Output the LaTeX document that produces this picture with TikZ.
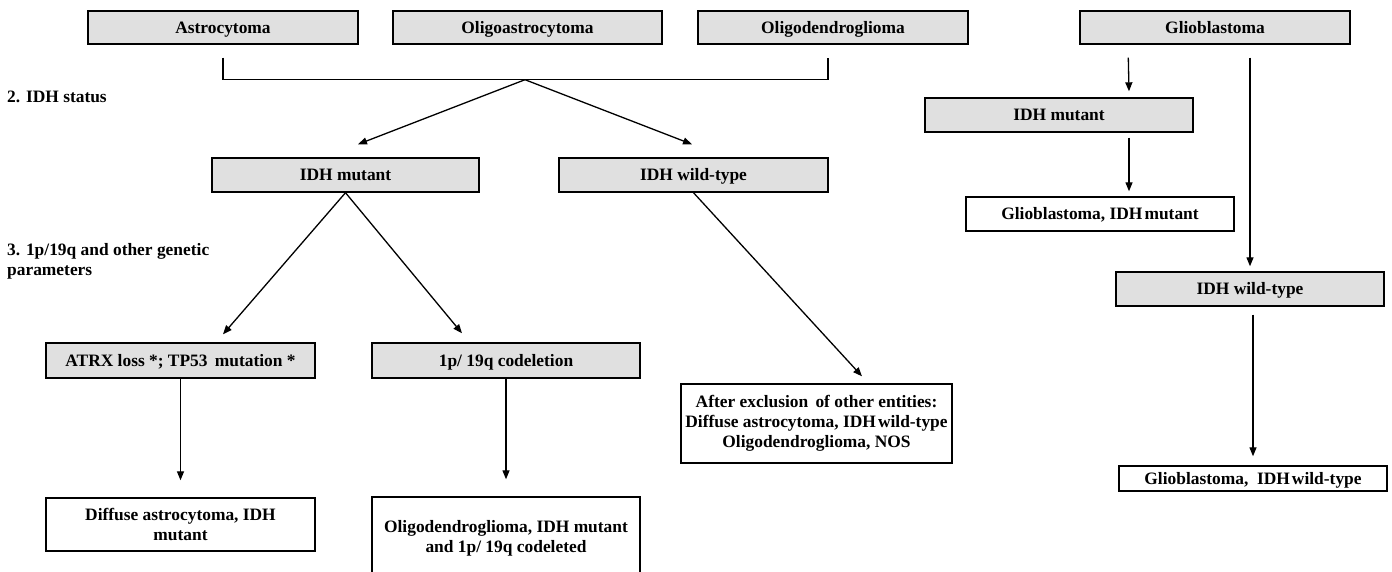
\documentclass[tikz,border=0pt]{standalone}
\usepackage{fontspec}
\setmainfont{Liberation Serif}
\usetikzlibrary{arrows.meta,calc}
\definecolor{boxgray}{RGB}{224,224,224}
\begin{document}
\begin{tikzpicture}[x=1pt,y=-1pt,
  every node/.style={font=\fontsize{17.4}{20}\selectfont\bfseries},
  gbox/.style={draw, line width=1.4pt, fill=boxgray, inner sep=0pt, align=center},
  wbox/.style={draw, line width=1.4pt, fill=white, inner sep=0pt, align=center},
  oneline/.style={text height=11.6pt, text depth=0pt},
  link/.style={line width=1.3pt},
  arr/.style={link, -{Triangle[length=9pt,width=7pt]}},
  lbl/.style={inner sep=0pt, align=left}]
\useasboundingbox (0,0) rectangle (1392,571);

% top row: histological entities
\node[gbox, oneline, minimum width=270pt, minimum height=33pt] (astro)   at (223,27.5)   {Astrocytoma};
\node[gbox, oneline, minimum width=269pt, minimum height=33pt] (oastro)  at (527.5,27.5) {Oligoastrocytoma};
\node[gbox, oneline, minimum width=270pt, minimum height=33pt] (odendro) at (833,27.5)   {Oligodendroglioma};
\node[gbox, oneline, minimum width=270pt, minimum height=33pt] (glio)    at (1215,27.5)  {Glioblastoma};

% step labels
\node[lbl, anchor=base west] (s2) at (7,102) {2. IDH status};
\node[lbl, anchor=north west] (s3) at (7,243) {3. 1p/19q and other genetic\\parameters};

% IDH status
\node[gbox, oneline, minimum width=267pt, minimum height=34pt] (idhmut) at (345.5,175) {IDH mutant};
\node[gbox, oneline, minimum width=269pt, minimum height=34pt] (idhwt)  at (693.5,175) {IDH wild-type};

% genetic parameters
\node[gbox, oneline, minimum width=269pt, minimum height=35pt] (atrx)  at (180.5,360.5) {ATRX loss *; TP53\, mutation *};
\node[gbox, oneline, minimum width=268pt, minimum height=35pt] (codel) at (506,360.5)   {1p/ 19q codeletion};

% integrated diagnoses
\node[wbox, minimum width=269pt, minimum height=53pt] (diffuse) at (180.5,524.5) {Diffuse astrocytoma, IDH\\mutant};
\node[wbox, minimum width=268pt, minimum height=83pt] (oligo)   at (506,538.5)   {Oligodendroglioma, IDH mutant\\and 1p/ 19q codeleted};
\node[wbox, minimum width=271pt, minimum height=79pt] (after)   at (816.5,423.5) {After exclusion\, of other entities:\\Diffuse astrocytoma, IDH\hspace{0.12em}wild-type\\Oligodendroglioma, NOS};

% glioblastoma branch
\node[gbox, oneline, minimum width=268pt, minimum height=34pt] (gmut)    at (1059,115)   {IDH mutant};
\node[wbox, oneline, minimum width=268pt, minimum height=34pt] (gmutres) at (1100,214)   {Glioblastoma, IDH\hspace{0.12em}mutant};
\node[gbox, oneline, minimum width=268pt, minimum height=34pt] (gwt)     at (1250,289)   {IDH wild-type};
\node[wbox, oneline, minimum width=268pt, minimum height=25pt] (gwtres)  at (1253,478.5) {Glioblastoma, \ IDH\hspace{0.12em}wild-type};

% bracket joining the three lower-grade entities
\coordinate (apex) at ($(oastro.south)+(-2.5,35)$);
\draw[link] ($(astro.south)+(0,13)$) |- (apex) -| ($(odendro.south)+(-5,13)$);

% connectors
\draw[arr] (apex) -- ($(idhmut.north)+(12.5,-13)$);
\draw[arr] (apex) -- ($(idhwt.north)+(-1.5,-13)$);
\draw[arr] (idhmut.south) -- ($(atrx.north)+(42.5,-8)$);
\draw[arr] (idhmut.south) -- ($(codel.north)+(-44,-9)$);
\draw[arr] (idhwt.south) -- ($(after.north)+(45.5,-7)$);
\draw[arr] (atrx.south) -- ($(diffuse.north)+(0,-17)$);
\draw[arr] (codel.south) -- ($(oligo.north)+(0,-17)$);

\draw[arr] ($(glio.south west)+(49,13)$) -- ($(gmut.north)+(70,-6)$);
\draw[arr] ($(gmut.south)+(70,5)$) -- ($(gmutres.north)+(29,-5)$);
\draw[arr] ($(glio.south)+(35,13)$) -- ($(gwt.north)+(0,-5)$);
\draw[arr] ($(gwt.south)+(3,8)$) -- ($(gwtres.north)+(0,-9)$);
\end{tikzpicture}
\end{document}
